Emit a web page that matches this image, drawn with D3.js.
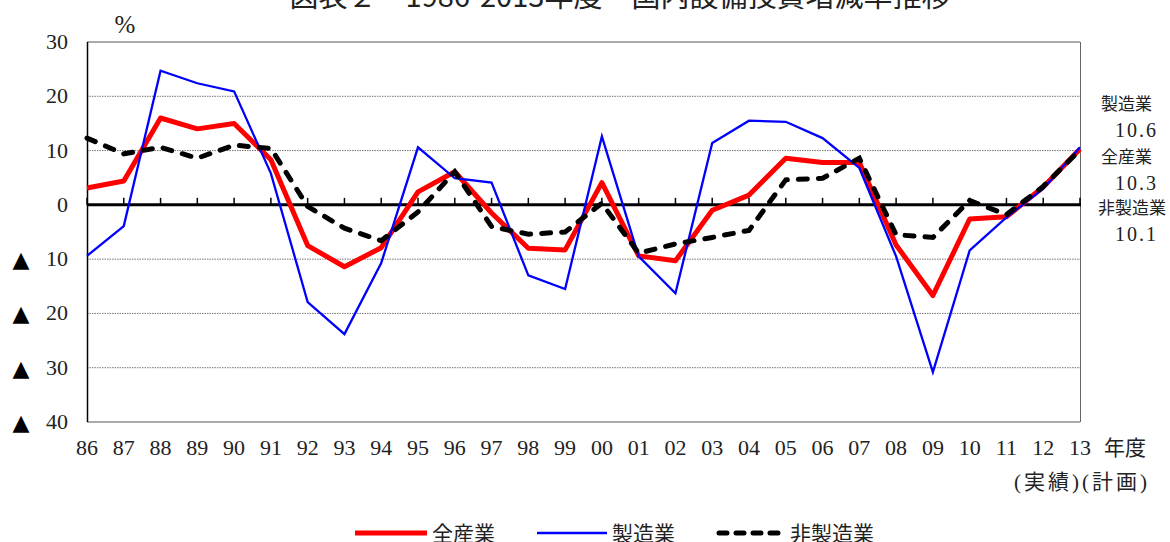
<!DOCTYPE html>
<html><head><meta charset="utf-8">
<script src="https://cdn.jsdelivr.net/npm/d3@7/dist/d3.min.js"></script>
<style>
body{margin:0;background:#fff;}
svg{display:block;}
text{font-family:"Liberation Serif","Noto Sans CJK JP",serif;fill:#222;}
</style></head>
<body>
<svg id="c" width="1170" height="542"></svg>
<script>
const years = ["86","87","88","89","90","91","92","93","94","95","96","97","98","99","00","01","02","03","04","05","06","07","08","09","10","11","12","13"];
const allIndustry = [3.1,4.4,16.0,14.0,15.0,8.3,-7.5,-11.4,-7.9,2.4,6.1,-1.5,-8.0,-8.3,4.1,-9.4,-10.3,-1.0,1.8,8.6,7.8,7.8,-7.4,-16.7,-2.6,-2.2,3.3,10.3];
const manufacturing = [-9.4,-3.9,24.7,22.4,20.9,5.8,-17.9,-23.8,-10.7,10.6,4.9,4.1,-13.0,-15.5,12.6,-9.5,-16.3,11.4,15.5,15.3,12.3,6.8,-9.5,-30.8,-8.4,-2.3,3.0,10.6];
const nonManufacturing = [12.3,9.4,10.6,8.6,11.0,10.4,-0.3,-4.3,-6.6,-1.3,6.1,-4.0,-5.4,-5.0,0.3,-8.9,-7.2,-6.0,-4.7,4.6,4.9,8.6,-5.5,-6.0,0.8,-1.8,3.4,10.1];
const yTicks = [30,20,10,0,-10,-20,-30,-40];
const seriesNames = ["全産業","製造業","非製造業"];
const endValues = ["10.6","10.3","10.1"];
const endNames = ["製造業","全産業","非製造業"];
const title = "図表２　1986-2013年度　国内設備投資増減率推移";

const svg = d3.select("#c");
const x = d3.scalePoint().domain(years).range([87,1080]);
const y = d3.scaleLinear().domain([-40,30]).range([422,42]);

// title (cut off at top like the reference)
svg.append("text").attr("x",620).attr("y",7).attr("text-anchor","middle")
  .style("font-family","'Noto Sans CJK JP'").style("font-size","29px").text(title);

// grid
svg.append("g").selectAll("line").data(yTicks.filter(d=>d!==0)).join("line")
  .attr("x1",87).attr("x2",1080).attr("y1",d=>y(d)).attr("y2",d=>y(d))
  .attr("stroke",d=>(d===30||d===-40)?"#555":"#777")
  .attr("stroke-width",1)
  .attr("stroke-dasharray",d=>(d===30||d===-40)?null:"1.5,1");

// right border
svg.append("line").attr("x1",1080.5).attr("x2",1080.5).attr("y1",y(30)).attr("y2",y(-40)).attr("stroke","#666");
// left axis
svg.append("line").attr("x1",87.5).attr("x2",87.5).attr("y1",y(30)).attr("y2",y(-40)).attr("stroke","#000").attr("stroke-width",1.5);

// zero line with ticks
svg.append("line").attr("x1",87).attr("x2",1081).attr("y1",y(0)).attr("y2",y(0)).attr("stroke","#000").attr("stroke-width",3);
svg.append("g").selectAll("line").data(years).join("line")
  .attr("x1",d=>x(d)).attr("x2",d=>x(d)).attr("y1",y(0)-7).attr("y2",y(0))
  .attr("stroke","#000").attr("stroke-width",1.5);

// y labels
const yl = svg.append("g");
yl.selectAll("text.num").data(yTicks).join("text").attr("class","num")
  .attr("x",68).attr("y",d=>y(d)+7).attr("text-anchor","end")
  .style("font-size","22px").text(d=>Math.abs(d));
yl.selectAll("text.tri").data(yTicks.filter(d=>d<0)).join("text").attr("class","tri")
  .attr("x",21).attr("y",d=>y(d)+8).attr("text-anchor","middle")
  .style("font-family","'DejaVu Sans'").style("font-size","22px").style("fill","#000").text("▲");
svg.append("text").attr("x",125).attr("y",33).attr("text-anchor","middle").style("font-size","25px").text("%");

// x labels
svg.append("g").selectAll("text").data(years).join("text")
  .attr("x",d=>x(d)).attr("y",455).attr("text-anchor","middle").style("font-size","22px").text(d=>d);
svg.append("text").attr("x",1104).attr("y",455).style("font-family","'Noto Sans CJK JP'").style("font-size","21px").text("年度");
svg.append("text").attr("x",1150).attr("y",489).attr("text-anchor","end").style("font-size","21px").style("letter-spacing","3px").text("(実績)(計画)");

// lines
const line = d3.line().x((d,i)=>x(years[i])).y(d=>y(d));
svg.append("path").datum(allIndustry).attr("d",line).attr("fill","none").attr("stroke","#ff0000").attr("stroke-width",5).attr("stroke-linejoin","round");
svg.append("path").datum(manufacturing).attr("d",line).attr("fill","none").attr("stroke","#0000ff").attr("stroke-width",2.3);
svg.append("path").datum(nonManufacturing).attr("d",line).attr("fill","none").attr("stroke","#000").attr("stroke-width",5)
  .attr("stroke-dasharray","9,11").attr("stroke-linecap","round");

// end labels
const ey = [104,157,208];
svg.append("g").selectAll("text").data(endNames).join("text")
  .attr("x",(d,i)=>i===2?1098:1101).attr("y",(d,i)=>ey[i]+6)
  .style("font-family","'Noto Sans CJK JP'").style("font-size","17px").text(d=>d);
svg.append("g").selectAll("text").data(endValues).join("text")
  .attr("x",1158).attr("y",(d,i)=>ey[i]+33).attr("text-anchor","end")
  .style("font-size","20px").style("letter-spacing","2px").text(d=>d);

// legend
const lg = [
  {name:seriesNames[0], x1:355, x2:427, color:"#ff0000", w:5, dash:null},
  {name:seriesNames[1], x1:537, x2:607, color:"#0000ff", w:2.5, dash:null},
  {name:seriesNames[2], x1:719, x2:785, color:"#000", w:5, dash:"8,9"}
];
const lgG = svg.append("g");
lg.forEach(l=>{
  lgG.append("line").attr("x1",l.x1).attr("x2",l.x2).attr("y1",533).attr("y2",533)
    .attr("stroke",l.color).attr("stroke-width",l.w).attr("stroke-dasharray",l.dash).attr("stroke-linecap",l.dash?"round":"butt");
  lgG.append("text").attr("x",l.x2+5).attr("y",541).style("font-family","'Noto Sans CJK JP'").style("font-size","21px").text(l.name);
});
</script>
</body></html>
